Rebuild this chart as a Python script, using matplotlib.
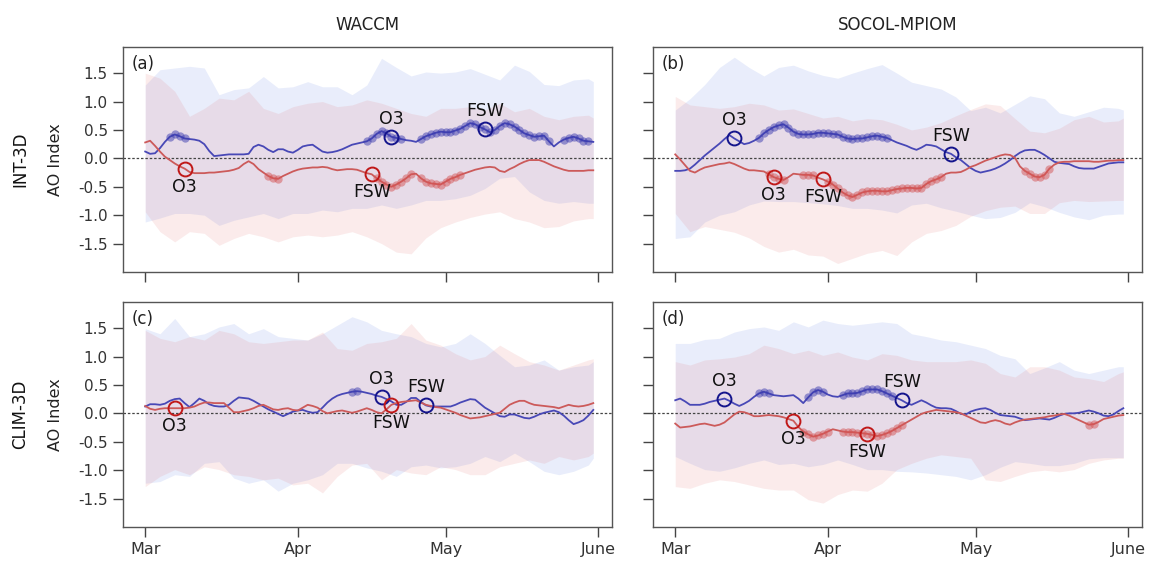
import numpy as np
import matplotlib
matplotlib.use("Agg")
import matplotlib.pyplot as plt

plt.rcParams['font.family'] = ['DejaVu Sans']

# ---------------------------------------------------------------------------
# Daily mean AO index, 1 March (day 0) to 31 May (day 91)
# pos = blue ensemble, neg = red ensemble
# ---------------------------------------------------------------------------
days = np.arange(92)

a_pos = [0.12, 0.08, 0.09, 0.18, 0.29, 0.38, 0.42, 0.39, 0.35, 0.34,
         0.33, 0.31, 0.25, 0.13, 0.04, 0.05, 0.06, 0.07, 0.07, 0.07,
         0.07, 0.08, 0.20, 0.24, 0.21, 0.15, 0.11, 0.16, 0.16, 0.12,
         0.10, 0.15, 0.21, 0.23, 0.24, 0.18, 0.12, 0.10, 0.11, 0.13,
         0.16, 0.20, 0.24, 0.26, 0.28, 0.30, 0.35, 0.43, 0.48, 0.44,
         0.38, 0.36, 0.34, 0.32, 0.31, 0.29, 0.34, 0.39, 0.42, 0.45,
         0.47, 0.46, 0.46, 0.49, 0.52, 0.57, 0.62, 0.60, 0.55, 0.51,
         0.46, 0.50, 0.57, 0.62, 0.60, 0.56, 0.50, 0.44, 0.41, 0.38,
         0.39, 0.40, 0.30, 0.21, 0.28, 0.33, 0.36, 0.38, 0.35, 0.31,
         0.30, 0.29]
a_neg = [0.28, 0.31, 0.22, 0.12, 0.03, -0.03, -0.09, -0.14, -0.18, -0.24,
         -0.26, -0.26, -0.26, -0.25, -0.25, -0.24, -0.23, -0.22, -0.20, -0.17,
         -0.10, -0.05, -0.10, -0.19, -0.25, -0.31, -0.35, -0.36, -0.31, -0.27,
         -0.23, -0.20, -0.18, -0.17, -0.16, -0.16, -0.15, -0.16, -0.19, -0.21,
         -0.20, -0.19, -0.19, -0.20, -0.23, -0.26, -0.28, -0.35, -0.41, -0.46,
         -0.50, -0.46, -0.41, -0.35, -0.28, -0.27, -0.35, -0.41, -0.44, -0.45,
         -0.46, -0.41, -0.36, -0.33, -0.29, -0.26, -0.23, -0.20, -0.18, -0.16,
         -0.15, -0.16, -0.22, -0.24, -0.19, -0.15, -0.10, -0.06, -0.03, -0.03,
         -0.03, -0.06, -0.10, -0.14, -0.17, -0.20, -0.22, -0.22, -0.22, -0.22,
         -0.21, -0.21]

b_pos = [-0.22, -0.22, -0.21, -0.18, -0.11, -0.03, 0.05, 0.12, 0.19, 0.26,
         0.34, 0.41, 0.35, 0.30, 0.25, 0.27, 0.31, 0.36, 0.44, 0.50,
         0.55, 0.58, 0.60, 0.54, 0.47, 0.43, 0.42, 0.42, 0.43, 0.45,
         0.45, 0.44, 0.43, 0.42, 0.38, 0.35, 0.34, 0.35, 0.35, 0.37,
         0.39, 0.40, 0.38, 0.36, 0.32, 0.28, 0.25, 0.22, 0.18, 0.15,
         0.19, 0.24, 0.23, 0.21, 0.16, 0.11, 0.08, 0.02, -0.03, -0.10,
         -0.17, -0.22, -0.25, -0.23, -0.21, -0.18, -0.14, -0.09, -0.03, 0.04,
         0.10, 0.14, 0.15, 0.15, 0.11, 0.06, 0.00, -0.06, -0.08, -0.09,
         -0.10, -0.14, -0.17, -0.18, -0.18, -0.18, -0.15, -0.12, -0.09, -0.08,
         -0.07, -0.07]
b_neg = [0.07, -0.02, -0.12, -0.22, -0.25, -0.20, -0.16, -0.14, -0.12, -0.10,
         -0.09, -0.07, -0.10, -0.14, -0.18, -0.21, -0.21, -0.22, -0.23, -0.28,
         -0.33, -0.36, -0.38, -0.33, -0.27, -0.28, -0.29, -0.29, -0.30, -0.34,
         -0.37, -0.41, -0.46, -0.53, -0.60, -0.65, -0.68, -0.64, -0.60, -0.58,
         -0.57, -0.57, -0.58, -0.58, -0.56, -0.54, -0.53, -0.52, -0.52, -0.53,
         -0.52, -0.45, -0.40, -0.37, -0.33, -0.27, -0.25, -0.25, -0.24, -0.20,
         -0.15, -0.12, -0.08, -0.04, -0.01, 0.02, 0.05, 0.07, 0.06, 0.01,
         -0.14, -0.22, -0.27, -0.32, -0.33, -0.29, -0.18, -0.11, -0.07, -0.06,
         -0.06, -0.05, -0.05, -0.05, -0.05, -0.06, -0.06, -0.05, -0.04, -0.04,
         -0.03, -0.03]

c_pos = [0.12, 0.16, 0.16, 0.15, 0.17, 0.22, 0.25, 0.26, 0.18, 0.11,
         0.18, 0.26, 0.22, 0.16, 0.13, 0.12, 0.12, 0.15, 0.22, 0.28,
         0.27, 0.26, 0.22, 0.17, 0.12, 0.07, 0.03, -0.01, -0.05, -0.01,
         0.03, 0.05, 0.06, 0.03, 0.01, 0.02, 0.10, 0.19, 0.26, 0.31,
         0.34, 0.36, 0.38, 0.39, 0.38, 0.36, 0.34, 0.31, 0.29, 0.25,
         0.21, 0.15, 0.15, 0.20, 0.27, 0.27, 0.20, 0.14, 0.12, 0.12,
         0.12, 0.12, 0.12, 0.15, 0.19, 0.22, 0.25, 0.24, 0.17, 0.10,
         0.05, 0.00, -0.05, -0.06, -0.02, -0.02, -0.05, -0.08, -0.09, -0.06,
         -0.02, 0.01, 0.03, 0.05, 0.02, -0.04, -0.12, -0.19, -0.16, -0.12,
         -0.04, 0.06]
c_neg = [0.13, 0.08, 0.06, 0.08, 0.09, 0.09, 0.09, 0.09, 0.09, 0.10,
         0.12, 0.16, 0.19, 0.19, 0.18, 0.18, 0.18, 0.10, 0.02, 0.02,
         0.04, 0.06, 0.09, 0.13, 0.15, 0.11, 0.07, 0.06, 0.08, 0.09,
         0.06, 0.05, 0.10, 0.15, 0.13, 0.10, 0.04, 0.00, 0.02, 0.04,
         0.05, 0.03, 0.01, 0.03, 0.06, 0.09, 0.06, 0.02, 0.00, 0.07,
         0.15, 0.18, 0.20, 0.21, 0.22, 0.23, 0.19, 0.15, 0.13, 0.11,
         0.10, 0.07, 0.04, 0.01, -0.03, -0.06, -0.09, -0.08, -0.07, -0.05,
         -0.03, -0.01, 0.01, 0.08, 0.15, 0.19, 0.22, 0.22, 0.18, 0.15,
         0.14, 0.13, 0.12, 0.11, 0.09, 0.12, 0.15, 0.13, 0.12, 0.13,
         0.15, 0.18]

d_pos = [0.23, 0.26, 0.21, 0.15, 0.15, 0.15, 0.17, 0.20, 0.22, 0.24,
         0.26, 0.22, 0.17, 0.13, 0.17, 0.22, 0.29, 0.35, 0.38, 0.35,
         0.32, 0.31, 0.30, 0.31, 0.32, 0.26, 0.18, 0.28, 0.37, 0.41,
         0.38, 0.33, 0.30, 0.29, 0.32, 0.35, 0.35, 0.36, 0.39, 0.42,
         0.42, 0.42, 0.39, 0.35, 0.31, 0.27, 0.23, 0.18, 0.15, 0.19,
         0.23, 0.19, 0.14, 0.10, 0.09, 0.09, 0.08, 0.04, -0.01, -0.02,
         0.03, 0.06, 0.08, 0.09, 0.06, 0.01, -0.03, -0.04, -0.05, -0.06,
         -0.09, -0.12, -0.11, -0.10, -0.09, -0.10, -0.11, -0.08, -0.04, -0.01,
         0.00, 0.00, 0.01, 0.03, 0.05, 0.03, 0.00, -0.04, -0.05, -0.02,
         0.04, 0.09]
d_neg = [-0.18, -0.25, -0.24, -0.23, -0.21, -0.19, -0.18, -0.20, -0.22, -0.20,
         -0.16, -0.09, -0.02, 0.03, 0.02, -0.01, -0.05, -0.05, -0.04, -0.03,
         -0.04, -0.05, -0.07, -0.10, -0.13, -0.24, -0.32, -0.37, -0.41, -0.39,
         -0.36, -0.32, -0.28, -0.30, -0.32, -0.33, -0.33, -0.34, -0.35, -0.36,
         -0.38, -0.40, -0.38, -0.35, -0.31, -0.26, -0.21, -0.16, -0.11, -0.06,
         -0.01, 0.02, 0.04, 0.06, 0.05, 0.04, 0.03, 0.02, 0.00, -0.04,
         -0.08, -0.12, -0.16, -0.17, -0.14, -0.12, -0.14, -0.18, -0.20, -0.16,
         -0.13, -0.11, -0.10, -0.09, -0.08, -0.07, -0.05, -0.04, -0.02, -0.01,
         -0.04, -0.08, -0.12, -0.16, -0.20, -0.19, -0.15, -0.10, -0.08, -0.06,
         -0.04, -0.03]

# ---------------------------------------------------------------------------
# Ensemble spread (upper / lower envelope), every third day
# ---------------------------------------------------------------------------
band_days = [0, 3, 6, 9, 12, 15, 18, 21, 24, 27, 30, 33, 36, 39, 42, 45,
             48, 51, 54, 57, 60, 63, 66, 69, 72, 75, 78, 81, 84, 87, 90, 91]

a_pos_hi = [1.29, 1.56, 1.59, 1.62, 1.59, 1.12, 1.21, 1.24, 1.44, 1.24, 1.26,
            1.35, 1.26, 1.26, 1.12, 1.29, 1.76, 1.60, 1.45, 1.52, 1.50, 1.52,
            1.58, 1.48, 1.38, 1.64, 1.53, 1.30, 1.28, 1.38, 1.40, 1.35]
a_pos_lo = [-1.12, -1.05, -0.97, -0.97, -1.00, -1.18, -1.09, -1.03, -0.97,
            -1.06, -0.97, -0.97, -0.91, -0.94, -0.88, -0.88, -0.82, -0.88,
            -0.82, -0.74, -0.74, -0.71, -0.65, -0.53, -0.35, -0.32, -0.59,
            -0.74, -0.79, -0.76, -0.79, -0.79]
a_neg_hi = [1.50, 1.41, 1.18, 0.74, 0.88, 1.06, 1.03, 1.18, 0.88, 0.79, 0.91,
            0.97, 1.00, 0.91, 0.94, 1.03, 0.97, 0.88, 0.79, 0.74, 0.88, 0.88,
            0.91, 0.85, 0.97, 0.82, 0.88, 0.74, 0.68, 0.74, 0.76, 0.71]
a_neg_lo = [-0.94, -1.29, -1.47, -1.29, -1.32, -1.53, -1.41, -1.32, -1.38,
            -1.47, -1.38, -1.35, -1.38, -1.35, -1.29, -1.38, -1.50, -1.65,
            -1.68, -1.40, -1.22, -1.12, -1.04, -0.98, -0.94, -1.06, -1.12,
            -1.22, -1.20, -1.10, -1.06, -1.06]

b_pos_hi = [0.85, 1.05, 1.30, 1.60, 1.78, 1.60, 1.45, 1.60, 1.64, 1.54, 1.46,
            1.41, 1.50, 1.58, 1.65, 1.50, 1.34, 1.28, 1.22, 1.08, 0.84, 0.90,
            0.80, 0.95, 1.10, 1.05, 0.80, 0.74, 0.82, 0.90, 0.88, 0.85]
b_pos_lo = [-1.41, -1.38, -1.12, -1.00, -0.94, -0.82, -0.75, -0.76, -0.76,
            -0.78, -0.80, -0.83, -0.88, -0.88, -0.91, -0.96, -0.82, -0.79,
            -0.87, -0.93, -1.00, -1.06, -1.04, -0.95, -0.78, -0.85, -0.95,
            -1.03, -1.08, -1.00, -0.98, -0.98]
b_neg_hi = [1.09, 0.94, 0.91, 0.88, 0.91, 0.97, 0.94, 0.85, 0.87, 0.79, 0.71,
            0.74, 0.66, 0.70, 0.68, 0.60, 0.50, 0.55, 0.63, 0.75, 0.86, 0.96,
            0.93, 0.70, 0.48, 0.45, 0.53, 0.68, 0.74, 0.64, 0.66, 0.71]
b_neg_lo = [-0.97, -1.29, -1.20, -1.25, -1.30, -1.40, -1.55, -1.65, -1.60,
            -1.70, -1.72, -1.85, -1.76, -1.67, -1.62, -1.71, -1.47, -1.32,
            -1.27, -1.18, -1.02, -0.92, -0.86, -0.84, -0.97, -0.97, -0.78,
            -0.74, -0.76, -0.75, -0.74, -0.74]

c_pos_hi = [1.49, 1.40, 1.67, 1.35, 1.40, 1.52, 1.58, 1.40, 1.49, 1.35, 1.32,
            1.29, 1.40, 1.55, 1.70, 1.61, 1.46, 1.40, 1.35, 1.23, 1.17, 1.23,
            1.40, 1.23, 1.02, 0.82, 0.85, 0.94, 0.76, 0.82, 0.85, 0.91]
c_pos_lo = [-1.23, -1.20, -1.08, -1.11, -0.88, -0.85, -1.14, -1.23, -1.17,
            -1.37, -1.23, -1.17, -1.08, -0.88, -0.88, -0.96, -1.02, -1.11,
            -0.94, -0.91, -0.96, -0.94, -0.88, -0.76, -0.85, -0.70, -0.85,
            -1.02, -1.08, -1.02, -0.91, -0.79]
c_neg_hi = [1.46, 1.32, 1.26, 1.35, 1.29, 1.46, 1.40, 1.26, 1.23, 1.26, 1.29,
            1.29, 1.43, 1.14, 1.11, 1.23, 1.26, 1.32, 1.58, 1.29, 1.20, 1.05,
            0.94, 1.00, 1.20, 1.05, 0.91, 0.85, 0.76, 0.85, 0.94, 0.96]
c_neg_lo = [-1.29, -1.11, -0.99, -1.08, -0.94, -0.99, -1.08, -1.11, -1.17,
            -1.14, -1.26, -1.23, -1.40, -1.11, -0.91, -0.88, -1.17, -0.99,
            -1.05, -1.08, -0.94, -0.99, -1.08, -1.08, -0.94, -0.88, -0.82,
            -0.88, -0.76, -0.82, -0.76, -0.70]

d_pos_hi = [1.23, 1.23, 1.30, 1.32, 1.43, 1.49, 1.52, 1.46, 1.61, 1.52, 1.64,
            1.58, 1.55, 1.58, 1.61, 1.58, 1.40, 1.35, 1.29, 1.26, 1.20, 1.14,
            1.02, 0.96, 0.70, 0.80, 0.91, 0.76, 0.70, 0.76, 0.82, 0.82]
d_pos_lo = [-0.76, -0.88, -0.99, -1.02, -0.96, -0.88, -0.82, -0.90, -0.88,
            -0.94, -0.90, -0.82, -0.90, -0.99, -0.99, -1.02, -1.03, -1.05,
            -1.08, -1.11, -1.17, -1.08, -0.95, -0.85, -0.88, -0.92, -0.92,
            -0.88, -0.80, -0.78, -0.78, -0.78]
d_neg_hi = [0.91, 0.85, 0.94, 0.96, 0.99, 1.05, 1.20, 1.14, 1.05, 1.11, 1.02,
            1.08, 0.99, 0.94, 1.05, 1.02, 0.94, 0.91, 0.91, 0.91, 0.94, 0.88,
            0.70, 0.64, 0.82, 0.82, 0.76, 0.64, 0.61, 0.56, 0.70, 0.73]
d_neg_lo = [-1.29, -1.32, -1.23, -1.17, -1.20, -1.26, -1.32, -1.35, -1.35,
            -1.52, -1.58, -1.43, -1.35, -1.37, -1.23, -0.99, -0.88, -0.79,
            -0.73, -0.76, -0.79, -1.17, -1.20, -1.11, -1.03, -1.00, -1.03,
            -0.99, -0.88, -0.82, -0.79, -0.79]

# ---------------------------------------------------------------------------
# Periods (first day, last day) where the mean is significant
# ---------------------------------------------------------------------------
a_pos_sig = [(5, 8), (45, 52), (56, 82), (85, 90)]
a_neg_sig = [(25, 27), (47, 54), (56, 64)]
b_pos_sig = [(17, 43)]
b_neg_sig = [(19, 22), (26, 28), (31, 54), (71, 76)]
c_pos_sig = [(42, 43)]
c_neg_sig = []
d_pos_sig = [(17, 19), (27, 30), (34, 44)]
d_neg_sig = [(26, 31), (34, 46), (84, 85)]

# Event dates (day index): ozone minimum (O3) and final stratospheric warming
a_pos_events = [("O3", 50), ("FSW", 69)]
a_neg_events = [("O3", 8), ("FSW", 46)]
b_pos_events = [("O3", 12), ("FSW", 56)]
b_neg_events = [("O3", 20), ("FSW", 30)]
c_pos_events = [("O3", 48), ("FSW", 57)]
c_neg_events = [("O3", 6), ("FSW", 50)]
d_pos_events = [("O3", 10), ("FSW", 46)]
d_neg_events = [("O3", 24), ("FSW", 39)]

month_ticks = [0, 31, 61, 92]
month_labels = ["Mar", "Apr", "May", "June"]

# ---------------------------------------------------------------------------
# Figure
# ---------------------------------------------------------------------------
BLUE_LINE = "#4848b6"
RED_LINE = "#cc5a5a"
BLUE_FILL = "#4a6fe3"
RED_FILL = "#e06060"
BLUE_DOT = "#3c3cb0"
RED_DOT = "#d45555"
BLUE_RING = "#14148c"
RED_RING = "#c01818"
GREY = "#444444"

fig, axes = plt.subplots(2, 2, figsize=(11.51, 5.62), dpi=100)
fig.subplots_adjust(left=0.1069, right=0.9922, top=0.9164, bottom=0.0623,
                    wspace=0.084, hspace=0.133)

panels = [
    (axes[0, 0], "(a)", a_pos, a_neg, a_pos_hi, a_pos_lo, a_neg_hi, a_neg_lo,
     a_pos_sig, a_neg_sig, a_pos_events, a_neg_events),
    (axes[0, 1], "(b)", b_pos, b_neg, b_pos_hi, b_pos_lo, b_neg_hi, b_neg_lo,
     b_pos_sig, b_neg_sig, b_pos_events, b_neg_events),
    (axes[1, 0], "(c)", c_pos, c_neg, c_pos_hi, c_pos_lo, c_neg_hi, c_neg_lo,
     c_pos_sig, c_neg_sig, c_pos_events, c_neg_events),
    (axes[1, 1], "(d)", d_pos, d_neg, d_pos_hi, d_pos_lo, d_neg_hi, d_neg_lo,
     d_pos_sig, d_neg_sig, d_pos_events, d_neg_events),
]

for (ax, tag, pos, neg, pos_hi, pos_lo, neg_hi, neg_lo,
     pos_sig, neg_sig, pos_ev, neg_ev) in panels:
    pos = np.array(pos)
    neg = np.array(neg)

    # ensemble spread
    ax.fill_between(band_days, pos_lo, pos_hi, color=BLUE_FILL, alpha=0.12,
                    lw=0)
    ax.fill_between(band_days, neg_lo, neg_hi, color=RED_FILL, alpha=0.12,
                    lw=0)

    ax.axhline(0, color="#444444", lw=0.9, ls=(0, (2, 1.5)), zorder=2)

    # ensemble means
    ax.plot(days, pos, color=BLUE_LINE, lw=1.3, zorder=3)
    ax.plot(days, neg, color=RED_LINE, lw=1.3, zorder=3)

    # significant days
    for sig, line, col in ((pos_sig, pos, BLUE_DOT), (neg_sig, neg, RED_DOT)):
        for s, e in sig:
            ax.plot(days[s:e + 1], line[s:e + 1], ls="none", marker="o",
                    ms=6, mfc=col, mec="none", alpha=0.5, zorder=4)

    # events
    for ev, line, col, off in ((pos_ev, pos, BLUE_RING, 13),
                               (neg_ev, neg, RED_RING, -13)):
        for name, day in ev:
            ax.plot(day, line[day], ls="none", marker="o", ms=10,
                    mfc="none", mec=col, mew=1.4, zorder=5)
            ax.annotate(name, (day, line[day]), xytext=(0, off),
                        textcoords="offset points", ha="center",
                        va="center", fontsize=12.5, color="#111111", zorder=6)

    ax.text(0.018, 0.965, tag, transform=ax.transAxes, ha="left", va="top",
            fontsize=12, color="#222222")

    ax.set_xlim(-4.5, 94.8)
    ax.set_ylim(-2.0, 1.96)
    ax.set_xticks(month_ticks)
    ax.set_yticks([-1.5, -1.0, -0.5, 0.0, 0.5, 1.0, 1.5])
    ax.tick_params(direction="out", length=7, width=1, color=GREY,
                   labelsize=11, labelcolor="#333333", pad=4)
    for sp in ax.spines.values():
        sp.set_color("#555555")
        sp.set_linewidth(1.0)

for ax in axes[0, :]:
    ax.set_xticklabels([])
for ax in axes[1, :]:
    ax.set_xticklabels(month_labels, fontsize=11.5)
for ax in axes[:, 1]:
    ax.set_yticklabels([])
for ax in axes[:, 0]:
    ax.set_yticklabels(["-1.5", "-1.0", "-0.5", "0.0", "0.5", "1.0", "1.5"])

axes[0, 0].set_title("WACCM", fontsize=12, pad=12, color="#222222")
axes[0, 1].set_title("SOCOL-MPIOM", fontsize=12, pad=12, color="#222222")

for ax, row in ((axes[0, 0], "INT-3D"), (axes[1, 0], "CLIM-3D")):
    ax.text(-0.21, 0.5, row, transform=ax.transAxes, rotation=90,
            ha="center", va="center", fontsize=12, color="#111111")
    ax.text(-0.138, 0.5, "AO Index", transform=ax.transAxes, rotation=90,
            ha="center", va="center", fontsize=11.5, color="#222222")

fig.savefig("out.png", dpi=100)
